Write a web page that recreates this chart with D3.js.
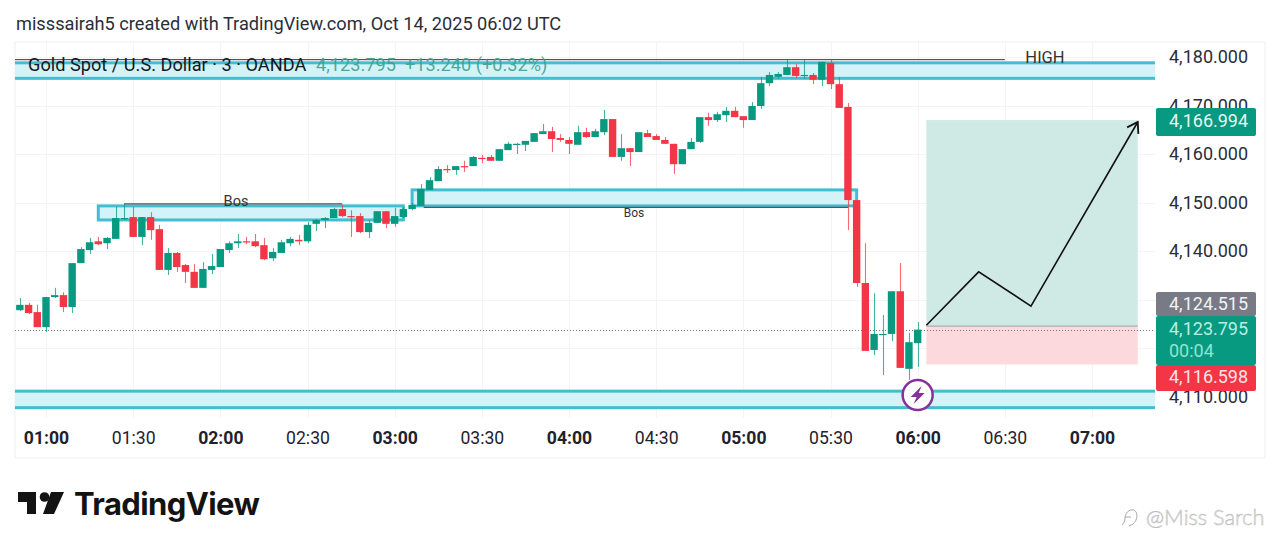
<!DOCTYPE html>
<html>
<head>
<meta charset="utf-8">
<script src="https://cdn.jsdelivr.net/npm/d3@7/dist/d3.min.js"></script>
<style>
html,body{margin:0;padding:0;background:#fff;overflow:hidden}
svg{display:block}
text{font-family:Roboto,"Noto Sans",sans-serif}
</style>
</head>
<body>
<svg id="c" width="1280" height="550"></svg>
<script>
// ---- data ----
const firstCandle = "2025-10-14T00:51:00Z";
const candleMinutes = 3;
const opens = [4127.8,4128.9,4127.4,4124.3,4130.5,4130.9,4128.45,4137.5,4140.2,4142.0,4141.6,4142.5,4146.6,4147.0,4142.9,4147.0,4144.5,4136.1,4139.6,4137.1,4135.7,4132.4,4136.1,4136.7,4140.2,4141.6,4142.0,4142.0,4141.2,4138.5,4139.6,4141.6,4142.3,4142.0,4145.6,4146.4,4146.8,4148.65,4147.2,4147.2,4143.9,4145.8,4148.2,4145.6,4147.0,4148.65,4149.3,4152.6,4154.4,4156.9,4156.7,4157.5,4157.5,4159.2,4159.4,4158.6,4160.8,4161.9,4161.9,4162.5,4164.1,4164.7,4163.3,4162.9,4161.9,4164.5,4163.5,4164.5,4167.2,4159.4,4161.2,4160.4,4164.3,4163.7,4162.9,4162.1,4157.9,4161.0,4162.5,4167.6,4167.0,4168.0,4168.9,4167.8,4167.0,4169.9,4174.6,4175.9,4176.3,4177.9,4176.1,4176.3,4175.3,4178.8,4174.4,4169.7,4150.5,4133.4,4119.6,4122.7,4122.9,4131.7,4115.7,4121.0];
const highs = [4130.3,4129.3,4128.9,4130.5,4132.4,4131.5,4137.5,4140.8,4142.7,4142.9,4142.9,4149.1,4149.9,4149.1,4147.0,4148.0,4145.4,4140.6,4139.8,4137.3,4137.3,4137.7,4139.4,4140.4,4142.0,4143.5,4142.9,4143.5,4142.7,4140.6,4142.3,4142.9,4143.3,4146.0,4146.6,4147.0,4148.9,4149.5,4148.4,4147.8,4146.4,4148.2,4148.2,4148.9,4149.1,4149.9,4153.8,4155.2,4157.5,4157.7,4157.5,4158.6,4159.6,4159.8,4159.8,4161.0,4162.5,4162.3,4162.7,4164.3,4166.2,4165.6,4164.1,4163.5,4165.8,4165.4,4165.2,4169.1,4167.2,4164.1,4161.2,4164.5,4165.0,4164.1,4163.5,4162.1,4161.0,4163.3,4167.6,4168.5,4168.7,4169.7,4169.7,4167.8,4170.7,4175.9,4176.9,4176.9,4179.4,4178.6,4179.4,4176.7,4179.0,4179.4,4175.9,4170.5,4150.5,4141.6,4131.3,4126.8,4131.7,4137.5,4123.1,4125.35];
const lows = [4127.6,4127.0,4124.3,4123.3,4130.3,4127.4,4127.2,4137.5,4139.4,4141.2,4140.4,4142.5,4146.4,4142.9,4141.2,4142.3,4136.1,4135.05,4135.7,4133.4,4132.4,4132.4,4135.25,4136.7,4139.6,4140.6,4141.4,4140.8,4138.1,4137.9,4139.6,4141.0,4141.2,4141.6,4144.1,4144.7,4146.8,4147.0,4142.9,4143.7,4142.7,4145.8,4144.7,4145.0,4146.8,4148.4,4149.3,4152.6,4154.4,4156.1,4155.7,4156.3,4157.5,4158.1,4158.6,4158.6,4160.8,4160.0,4160.6,4162.5,4164.1,4160.4,4162.5,4160.0,4161.9,4163.3,4163.5,4163.9,4159.4,4158.6,4157.5,4160.4,4163.5,4162.9,4162.1,4155.9,4157.9,4161.0,4162.3,4165.8,4166.6,4166.6,4167.6,4165.4,4167.0,4169.3,4174.0,4175.5,4176.3,4175.7,4175.5,4174.4,4174.0,4173.4,4169.5,4144.3,4132.6,4119.4,4118.55,4114.4,4121.4,4115.9,4113.4,4116.1];
const closes = [4128.9,4127.2,4124.3,4130.5,4130.9,4128.45,4137.5,4140.4,4141.8,4141.4,4142.7,4146.8,4146.8,4142.9,4147.0,4144.3,4136.1,4139.6,4136.7,4135.7,4132.4,4136.3,4136.9,4140.4,4141.6,4142.0,4141.8,4141.0,4138.3,4139.8,4141.8,4142.5,4142.0,4145.4,4146.4,4146.8,4148.65,4147.2,4147.0,4143.9,4145.8,4148.2,4145.6,4147.2,4148.65,4149.5,4152.8,4154.6,4156.9,4156.7,4157.5,4157.3,4159.4,4159.0,4158.6,4161.0,4162.1,4162.1,4162.7,4164.3,4164.7,4163.1,4162.9,4162.1,4164.5,4163.5,4164.7,4167.2,4159.4,4161.2,4160.4,4164.5,4163.5,4162.9,4162.1,4157.9,4161.0,4162.5,4167.6,4167.0,4168.2,4168.9,4167.6,4167.0,4169.9,4174.6,4176.3,4176.5,4177.9,4176.1,4176.3,4175.3,4179.0,4174.4,4169.5,4150.5,4133.4,4119.4,4122.9,4122.9,4131.7,4115.9,4121.2,4123.795];

const priceTicks = [4180,4170,4160,4150,4140,4130,4120,4110];
const hiddenPriceTicks = [4130,4120];
const lastPrice = 4123.795, targetPrice = 4166.994, entryPrice = 4124.515, stopPrice = 4116.598;
const countdown = "00:04";
const zoneHigh = [4178.8, 4175.6];
const zoneLow = [4111.1, 4107.7];
const bosBox1 = {from:"2025-10-14T01:18:00Z", to:"2025-10-14T03:03:00Z", hi:4149.3, lo:4146.4};
const bosBox2 = {from:"2025-10-14T03:06:00Z", to:"2025-10-14T05:39:00Z", hi:4152.6, lo:4149.3};
const bosLine1 = {from:"2025-10-14T01:27:00Z", to:"2025-10-14T02:42:00Z", p:4149.7};
const bosLine2 = {from:"2025-10-14T03:10:00Z", to:"2025-10-14T05:36:00Z", p:4149.0};
const highLine = {to:"2025-10-14T06:30:00Z", p:4179.45};
const positionTimes = ["2025-10-14T06:03:00Z","2025-10-14T07:15:45Z"];
const pathTimes = ["2025-10-14T06:03:00Z","2025-10-14T06:21:00Z","2025-10-14T06:39:00Z","2025-10-14T07:15:45Z"];
const pathPrices = [4124.7,4135.7,4128.65,4166.6];
const eventTime = "2025-10-14T06:00:00Z", eventPrice = 4110.3;
const headerText = "misssairah5 created with TradingView.com, Oct 14, 2025 06:02 UTC";
const titleText = "Gold Spot / U.S. Dollar · 3 · OANDA";
const quoteText = "4,123.795  +13.240 (+0.32%)";

// ---- scales ----
const W = {l:15, r:1155, t:42, b:418, fr:1265, fb:458};
const x = d3.scaleUtc().domain([new Date("2025-10-14T01:00:00Z"), new Date("2025-10-14T07:00:00Z")]).range([46,1092]);
const y = d3.scaleLinear().domain([4180,4110]).range([57,396.5]);
const d = s => new Date(s);
const fmt = d3.format(",.3f");
const GREEN="#089981", RED="#F23645", ZONE="#45BDD0", ZFILL="#D4F3F8";

const candles = opens.map((o,i)=>({t:d3.utcMinute.offset(d(firstCandle),i*candleMinutes),o,h:highs[i],l:lows[i],c:closes[i]}));

const svg = d3.select("#c");
const defs = svg.append("defs");
defs.append("clipPath").attr("id","plot").append("rect").attr("x",W.l).attr("y",W.t).attr("width",W.r-W.l).attr("height",W.b-W.t);
defs.append("marker").attr("id","arrow").attr("markerUnits","userSpaceOnUse").attr("markerWidth",24).attr("markerHeight",24)
  .attr("refX",12).attr("refY",12).attr("orient","auto")
  .append("path").attr("d","M2,5.5 L12,12 L2,18.5").attr("fill","none").attr("stroke","#111").attr("stroke-width",1.8);

// frame
svg.append("rect").attr("width",1280).attr("height",550).attr("fill","#fff");
svg.append("rect").attr("x",W.l).attr("y",W.t).attr("width",W.fr-W.l).attr("height",W.fb-W.t).attr("fill","none").attr("stroke","#f0f0f0");

// header
svg.append("text").attr("x",16).attr("y",30).attr("font-size",18.2).attr("fill","#2a2e39").text(headerText);

// grid
const timeTicks = d3.utcMinute.range(d("2025-10-14T01:00:00Z"), d("2025-10-14T07:00:01Z"), 30);
const grid = svg.append("g").attr("stroke","#f4f4f5").attr("stroke-width",1);
grid.selectAll("line.v").data(timeTicks).join("line").attr("class","v")
  .attr("x1",t=>Math.round(x(t))+.5).attr("x2",t=>Math.round(x(t))+.5).attr("y1",W.t).attr("y2",W.b);
grid.selectAll("line.h").data(priceTicks).join("line").attr("class","h")
  .attr("y1",p=>Math.round(y(p))+.5).attr("y2",p=>Math.round(y(p))+.5).attr("x1",W.l).attr("x2",W.r);

const plot = svg.append("g").attr("clip-path","url(#plot)");

// position tool
const px0=x(d(positionTimes[0])), px1=x(d(positionTimes[1]));
plot.append("rect").attr("x",px0).attr("width",px1-px0).attr("y",y(targetPrice)).attr("height",y(entryPrice)-y(targetPrice)).attr("fill","#CFEAE4");
plot.append("rect").attr("x",px0).attr("width",px1-px0).attr("y",y(entryPrice)).attr("height",y(stopPrice)-y(entryPrice)).attr("fill","#FCD9DC");
plot.append("line").attr("x1",px0).attr("x2",px1).attr("y1",y(entryPrice)).attr("y2",y(entryPrice)).attr("stroke","#9a9ea8").attr("stroke-width",1);

// zones
function band(g,x0,x1,hi,lo){
  g.append("rect").attr("x",x0).attr("width",x1-x0).attr("y",y(hi)).attr("height",y(lo)-y(hi))
    .attr("fill",ZFILL).attr("stroke",ZONE).attr("stroke-width",3);
}
band(plot,W.l-5,W.r+5,zoneHigh[0],zoneHigh[1]);
band(plot,W.l-5,W.r+5,zoneLow[0],zoneLow[1]);
band(plot,x(d(bosBox1.from)),x(d(bosBox1.to)),bosBox1.hi,bosBox1.lo);
band(plot,x(d(bosBox2.from)),x(d(bosBox2.to)),bosBox2.hi,bosBox2.lo);

// horizontal lines
plot.append("line").attr("x1",W.l).attr("x2",x(d(highLine.to))).attr("y1",y(highLine.p)).attr("y2",y(highLine.p)).attr("stroke","#333").attr("stroke-width",1);
[bosLine1,bosLine2].forEach(b=>{
  plot.append("line").attr("x1",x(d(b.from))).attr("x2",x(d(b.to))).attr("y1",y(b.p)).attr("y2",y(b.p)).attr("stroke","#555").attr("stroke-width",1.2);
});

// last price dotted line
plot.append("line").attr("x1",W.l).attr("x2",W.r).attr("y1",Math.round(y(lastPrice))+.5).attr("y2",Math.round(y(lastPrice))+.5)
  .attr("stroke","#777").attr("stroke-width",1).attr("stroke-dasharray","1 2");

// candles
const cg = plot.append("g");
const colour = c => c.c>=c.o ? GREEN : RED;
cg.selectAll("line.w").data(candles).join("line").attr("class","w")
  .attr("x1",c=>Math.round(x(c.t))+.5).attr("x2",c=>Math.round(x(c.t))+.5)
  .attr("y1",c=>y(c.h)).attr("y2",c=>y(c.l)).attr("stroke",colour).attr("stroke-opacity",.75).attr("stroke-width",1.1);
cg.selectAll("rect.b").data(candles).join("rect").attr("class","b")
  .attr("x",c=>x(c.t)-3.7).attr("width",7.4)
  .attr("y",c=>y(Math.max(c.o,c.c))).attr("height",c=>Math.max(1.2,Math.abs(y(c.o)-y(c.c))))
  .attr("fill",colour);

// hand-drawn path
const line = d3.line().x(p=>x(d(p[0]))).y(p=>y(p[1]));
plot.append("path").attr("d",line(pathTimes.map((t,i)=>[t,pathPrices[i]])))
  .attr("fill","none").attr("stroke","#111").attr("stroke-width",1.6).attr("marker-end","url(#arrow)");

// text annotations
const ann = svg.append("g").attr("fill","#333");
ann.append("text").attr("x",236).attr("y",206).attr("text-anchor","middle").attr("font-size",14.5).text("Bos");
ann.append("text").attr("x",634).attr("y",217).attr("text-anchor","middle").attr("font-size",12).text("Bos");
ann.append("text").attr("x",1045).attr("y",63).attr("text-anchor","middle").attr("font-size",16.5).text("HIGH");

// title
svg.append("text").attr("x",28).attr("y",71).attr("font-size",18.2).attr("fill","#131722").text(titleText);
svg.append("text").attr("x",316).attr("y",71).attr("font-size",18.2).attr("fill","#3a9e8c").attr("fill-opacity",.88).style("white-space","pre").text(quoteText);

// event marker
const ev = svg.append("g").attr("transform",`translate(${x(d(eventTime))},${y(eventPrice)})`);
ev.append("circle").attr("r",15).attr("fill","#fff").attr("stroke","#86309F").attr("stroke-width",2.5);
ev.append("path").attr("d","M4,-9 L-7,2 L-1,2 L-4,9 L7,-2 L1,-2 Z").attr("fill","#86309F");

// price axis
const yAxis = d3.axisRight(y).tickValues(priceTicks.filter(p=>!hiddenPriceTicks.includes(p))).tickSize(0).tickPadding(0).tickFormat(fmt);
const gy = svg.append("g").attr("transform","translate(1169,0)").call(yAxis);
gy.select(".domain").remove();
gy.selectAll("text").attr("font-size",18).attr("fill","#2a2e39").style("font-family","Roboto");

// time axis
const xAxis = d3.axisBottom(x).tickValues(timeTicks).tickSize(0).tickPadding(0).tickFormat(d3.utcFormat("%H:%M"));
const gx = svg.append("g").attr("transform","translate(0,431)").call(xAxis);
gx.select(".domain").remove();
gx.selectAll("text").attr("font-size",17.6).attr("fill","#1e222d").style("font-family","Roboto")
  .attr("font-weight",t=>t.getUTCMinutes()===0?700:400);

// price labels
function tag(y0,h,bg,lines){
  const g = svg.append("g");
  g.append("rect").attr("x",1156).attr("y",y0).attr("width",100).attr("height",h).attr("rx",2).attr("fill",bg);
  lines.forEach(l=>g.append("text").attr("x",1169).attr("y",l.y).attr("font-size",18).attr("fill",l.c).text(l.t));
}
tag(108,28,"#089981",[{t:fmt(targetPrice),y:127,c:"#e6f7f3"}]);
tag(292,24,"#787B86",[{t:fmt(entryPrice),y:310,c:"#f2f2f2"}]);
tag(316,49,"#089981",[{t:fmt(lastPrice),y:335,c:"#b5f0e2"},{t:countdown,y:357,c:"#8fe6d2"}]);
tag(365,26,"#F23645",[{t:fmt(stopPrice),y:383,c:"#fde4e6"}]);

// logo
const logo = svg.append("g").attr("fill","#131313");
logo.append("path").attr("d","M18,492 H36 V514 H27 V502 H18 Z");
logo.append("circle").attr("cx",44.5).attr("cy",497).attr("r",4.8);
logo.append("path").attr("d","M54,514 L43,514 L51,492 L64,492 Z");
logo.append("text").attr("x",74).attr("y",515).attr("font-size",31).attr("font-weight",700).style("font-family","Inter,Lato,sans-serif").attr("letter-spacing",-.6).text("TradingView");

// watermark
svg.append("path").attr("d","M1134,510 c-5,-1 -9,3 -9,8 c0,3 -1,5 -3,7 M1131,517 h-6 M1134,510 c4,2 4,10 -1,14 l-4,2")
  .attr("fill","none").attr("stroke","#aaa").attr("stroke-width",1);
svg.append("text").attr("x",1146).attr("y",525).attr("font-size",21.8).style("font-family","Lato,sans-serif").attr("font-weight",300)
  .attr("fill","#f2f2f2").attr("stroke","#b8b8b8").attr("stroke-width",.5).text("@Miss Sarch");
</script>
</body>
</html>
